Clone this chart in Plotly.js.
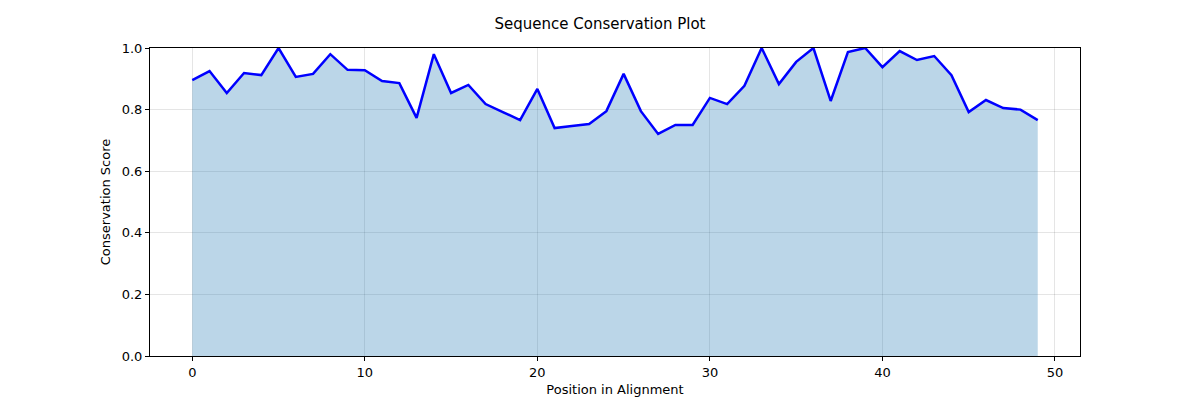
<!DOCTYPE html>
<html>
<head>
    <title>Sequence Conservation Plot</title>
    <script src="https://cdn.plot.ly/plotly-3.0.1.min.js"></script>
    <style>
        body { margin: 0; background: white; }
        #plot { width: 1200px; height: 400px; }
    </style>
</head>
<body>
    <div id="plot"></div>
    <script>
        const positions = Array.from({length: 50}, (_, i) => i);
        const scores = [
            0.896, 0.925, 0.854, 0.919, 0.912, 1.0, 0.906, 0.916, 0.98, 0.929,
            0.928, 0.893, 0.886, 0.773, 0.98, 0.854, 0.88, 0.818, 0.792, 0.766,
            0.867, 0.74, 0.747, 0.753, 0.795, 0.916, 0.795, 0.721, 0.75, 0.75,
            0.838, 0.818, 0.877, 1.0, 0.883, 0.955, 1.0, 0.828, 0.987, 1.0,
            0.938, 0.99, 0.961, 0.974, 0.912, 0.792, 0.831, 0.805, 0.8, 0.766
        ];

        const data = [
            {
                x: positions,
                y: scores,
                type: 'scatter',
                mode: 'none',
                fill: 'tozeroy',
                fillcolor: 'rgba(31,119,180,0.3)',
                hoverinfo: 'skip',
                showlegend: false
            },
            {
                x: positions,
                y: scores,
                type: 'scatter',
                mode: 'lines',
                line: { color: '#0000ff', width: 2.5 },
                showlegend: false
            }
        ];

        const axisStyle = {
            showline: true,
            mirror: true,
            linecolor: 'black',
            linewidth: 1,
            ticks: 'outside',
            ticklen: 4,
            tickcolor: 'black',
            gridcolor: 'rgba(0,0,0,0.1)',
            zeroline: false,
            tickfont: { size: 13, color: 'black' }
        };

        const layout = {
            width: 1200,
            height: 400,
            margin: { l: 150, r: 120, t: 48, b: 44 },
            paper_bgcolor: 'white',
            plot_bgcolor: 'white',
            font: { family: 'DejaVu Sans, sans-serif', color: 'black' },
            title: { text: 'Sequence Conservation Plot', font: { size: 15 }, x: 0.5, y: 0.955, xanchor: 'center' },
            xaxis: Object.assign({}, axisStyle, {
                range: [-2.45, 51.45],
                tickvals: [0, 10, 20, 30, 40, 50],
                title: { text: 'Position in Alignment', font: { size: 13 }, standoff: 6 }
            }),
            yaxis: Object.assign({}, axisStyle, {
                range: [0, 1],
                tickvals: [0, 0.2, 0.4, 0.6, 0.8, 1.0],
                tickformat: '.1f',
                title: { text: 'Conservation Score', font: { size: 13 }, standoff: 8 }
            })
        };

        Plotly.newPlot('plot', data, layout, { displayModeBar: false });
    </script>
</body>
</html>
